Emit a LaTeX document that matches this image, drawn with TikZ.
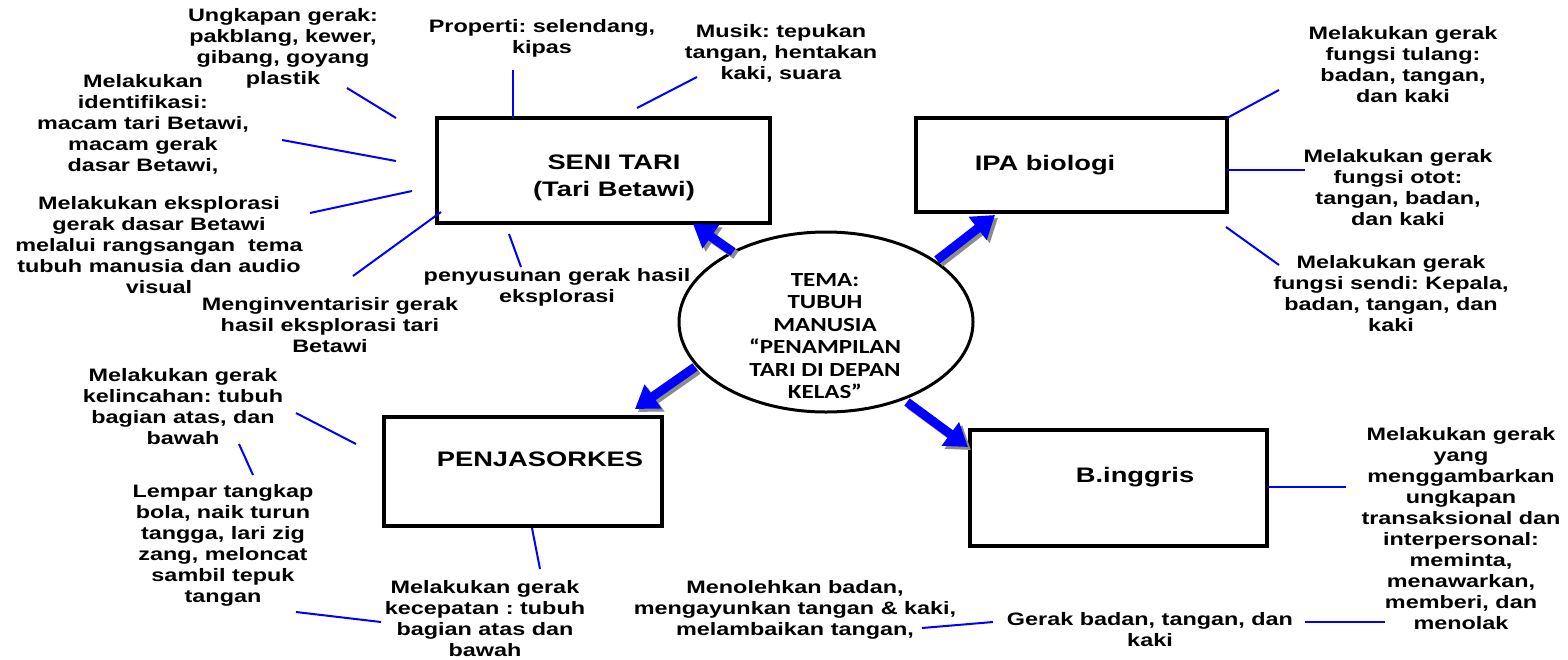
\documentclass[tikz,border=0pt]{standalone}
\usepackage{fontspec}
\setmainfont{Liberation Sans}[FakeStretch=1.3]
\newfontfamily\calf{Carlito}[FakeStretch=1.25]
\usetikzlibrary{shapes.geometric,arrows.meta}
\definecolor{lnblue}{RGB}{0,0,255}
\frenchspacing
\begin{document}
\begin{tikzpicture}[x=1pt,y=-1pt,
  lab/.style={font=\fontsize{18}{21}\selectfont\bfseries, align=center, inner sep=0pt},
  boxtxt/.style={font=\fontsize{21}{27}\selectfont\bfseries, align=center, inner sep=0pt},
  subj/.style={draw=black, line width=3.5pt, inner sep=0pt},
  conn/.style={draw=lnblue, line width=2pt},
  bigarrow/.style={line width=9pt, draw=lnblue, -{Triangle[width=28pt,length=22pt]},
     preaction={draw=black!45, line width=9pt, -{Triangle[width=28pt,length=22pt]}, transform canvas={shift={(3pt,-3pt)}}}},
]
\fill[white] (0,0) rectangle (1568,659);
\useasboundingbox (0,0) rectangle (1568,659);

% subject boxes
\node[subj, minimum width=333pt, minimum height=105pt] (tari) at (603.5,170.5) {};
\node[boxtxt] (tariT) at (614,178) {SENI TARI\\(Tari Betawi)};
\node[subj, minimum width=311pt, minimum height=94pt] (ipa) at (1071.5,165) {};
\node[boxtxt] (ipaT) at (1045,165) {IPA biologi};
\node[subj, minimum width=278pt, minimum height=109pt] (penj) at (523,471.5) {};
\node[boxtxt] (penjT) at (540,459) {PENJASORKES};
\node[subj, minimum width=297pt, minimum height=116pt] (bing) at (1118.5,488) {};
\node[boxtxt] (bingT) at (1135,477) {B.inggris};

% central ellipse
\node[draw, line width=3pt, ellipse, minimum width=294pt, minimum height=180pt, inner sep=0pt] (tema) at (826,322) {};
\node[font=\calf\fontsize{20}{22.4}\selectfont\bfseries, align=center, inner sep=0pt] (temaT) at (825,336)
  {TEMA:\\TUBUH\\MANUSIA\\“PENAMPILAN\\TARI DI DEPAN\\KELAS”};

% big arrows
\coordinate (a1s) at (733,252); \coordinate (a1e) at (693,224);
\coordinate (a2s) at (937,260); \coordinate (a2e) at (995,215);
\coordinate (a3s) at (695,367); \coordinate (a3e) at (635,409);
\coordinate (a4s) at (907,402); \coordinate (a4e) at (968,447);
\draw[bigarrow] (a1s) -- (a1e);
\draw[bigarrow] (a2s) -- (a2e);
\draw[bigarrow] (a3s) -- (a3e);
\draw[bigarrow] (a4s) -- (a4e);

% labels
\node[lab] (ungk) at (283,48) {Ungkapan gerak:\\pakblang, kewer,\\gibang, goyang\\plastik};
\node[lab] (prop) at (542,38.5) {Properti: selendang,\\kipas};
\node[lab] (musik) at (781,53) {Musik: tepukan\\tangan, hentakan\\kaki, suara};
\node[lab] (ident) at (143,124) {Melakukan\\identifikasi:\\macam tari Betawi,\\macam gerak\\dasar Betawi,};
\node[lab] (eksp) at (159,245) {Melakukan eksplorasi\\gerak dasar Betawi\\melalui rangsangan~ tema\\tubuh manusia dan audio\\visual};
\node[lab] (inv) at (330,325) {Menginventarisir gerak\\hasil eksplorasi tari\\Betawi};
\node[lab] (susun) at (557,287) {penyusunan gerak hasil\\eksplorasi};
\node[lab] (tulang) at (1403,64.5) {Melakukan gerak\\fungsi tulang:\\badan, tangan,\\dan kaki};
\node[lab] (otot) at (1398,188) {Melakukan gerak\\fungsi otot:\\tangan, badan,\\dan kaki};
\node[lab] (sendi) at (1391,294) {Melakukan gerak\\fungsi sendi: Kepala,\\badan, tangan, dan\\kaki};
\node[lab] (lincah) at (183,406.5) {Melakukan gerak\\kelincahan: tubuh\\bagian atas, dan\\bawah};
\node[lab] (lempar) at (223,545.5) {Lempar tangkap\\bola, naik turun\\tangga, lari zig\\zang, meloncat\\sambil tepuk\\tangan};
\node[lab] (cepat) at (485,619) {Melakukan gerak\\kecepatan : tubuh\\bagian atas dan\\bawah};
\node[lab] (toleh) at (795,609.5) {Menolehkan badan,\\mengayunkan tangan \& kaki,\\melambaikan tangan,};
\node[lab] (gerak) at (1150,630) {Gerak badan, tangan, dan\\kaki};
\node[lab] (trans) at (1461,529) {Melakukan gerak\\yang\\menggambarkan\\ungkapan\\transaksional dan\\interpersonal:\\meminta,\\menawarkan,\\memberi, dan\\menolak};

% connector end points
\coordinate (c1a) at (347,88);   \coordinate (c1b) at (396,118);
\coordinate (c2a) at (513,70);   \coordinate (c2b) at (513,118);
\coordinate (c3a) at (697,77);   \coordinate (c3b) at (637,108);
\coordinate (c4a) at (282,140);  \coordinate (c4b) at (396,161);
\coordinate (c5a) at (310,213);  \coordinate (c5b) at (412,191);
\coordinate (c6a) at (353,276);  \coordinate (c6b) at (441,212);
\coordinate (c7a) at (509,234);  \coordinate (c7b) at (521,267);
\coordinate (c8a) at (1227,118); \coordinate (c8b) at (1279,90);
\coordinate (c9a) at (1227,170); \coordinate (c9b) at (1305,170);
\coordinate (c10a) at (1226,227); \coordinate (c10b) at (1279,265);
\coordinate (c11a) at (296,413); \coordinate (c11b) at (356,444);
\coordinate (c12a) at (239,444); \coordinate (c12b) at (253,475);
\coordinate (c13a) at (296,612); \coordinate (c13b) at (381,622);
\coordinate (c14a) at (532,528); \coordinate (c14b) at (540,569);
\coordinate (c15a) at (1267,487); \coordinate (c15b) at (1346,487);
\coordinate (c16a) at (1305,622); \coordinate (c16b) at (1385,622);
\coordinate (c17a) at (922,628); \coordinate (c17b) at (993,622);

\draw[conn] (c1a) -- (c1b);
\draw[conn] (c2a) -- (c2b);
\draw[conn] (c3a) -- (c3b);
\draw[conn] (c4a) -- (c4b);
\draw[conn] (c5a) -- (c5b);
\draw[conn] (c6a) -- (c6b);
\draw[conn] (c7a) -- (c7b);
\draw[conn] (c8a) -- (c8b);
\draw[conn] (c9a) -- (c9b);
\draw[conn] (c10a) -- (c10b);
\draw[conn] (c11a) -- (c11b);
\draw[conn] (c12a) -- (c12b);
\draw[conn] (c13a) -- (c13b);
\draw[conn] (c14a) -- (c14b);
\draw[conn] (c15a) -- (c15b);
\draw[conn] (c16a) -- (c16b);
\draw[conn] (c17a) -- (c17b);
\end{tikzpicture}
\end{document}
